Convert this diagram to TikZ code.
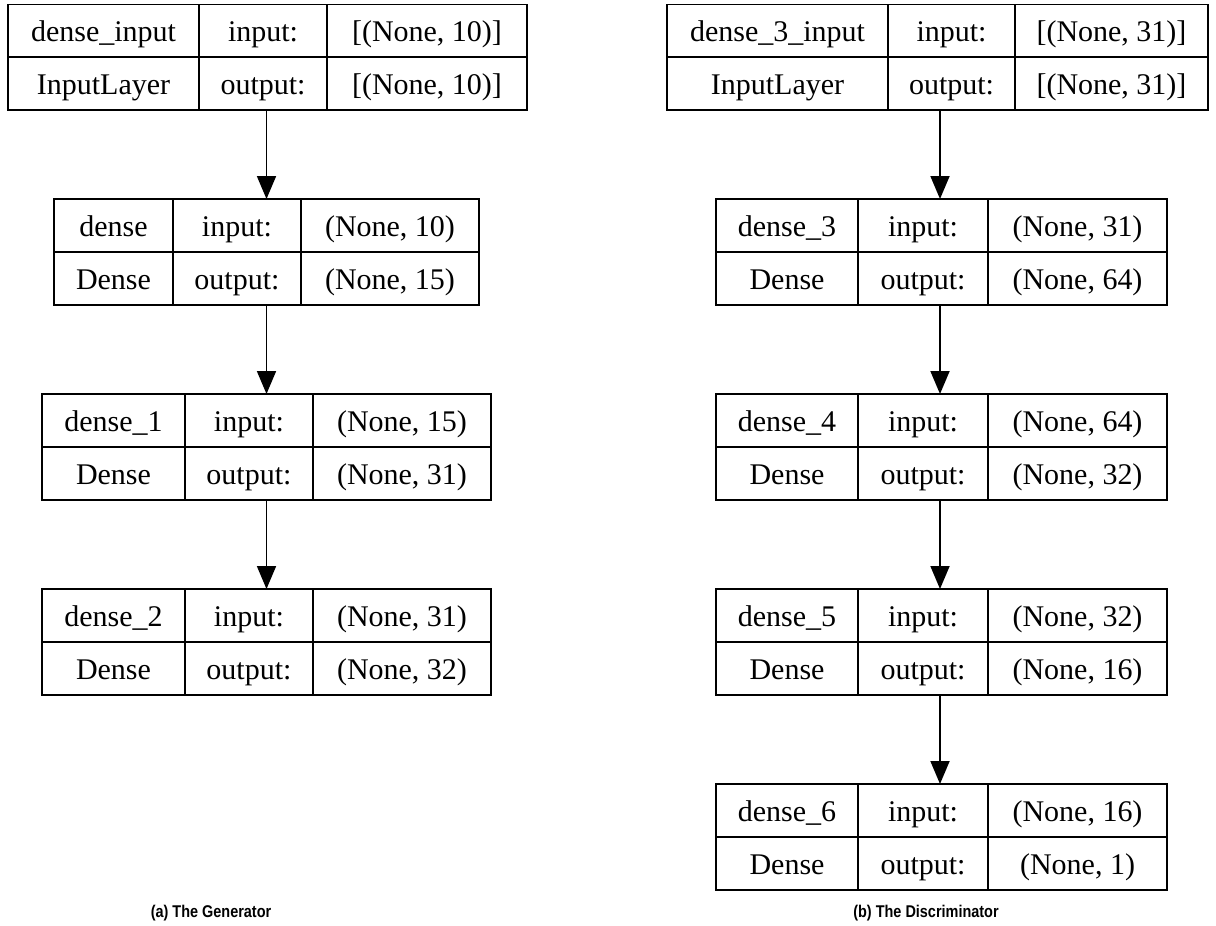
\documentclass[tikz,border=0pt]{standalone}
\usepackage{fontspec}
\setmainfont{Liberation Serif}
\newfontfamily\capfont{Liberation Sans}
\usetikzlibrary{arrows.meta}

\tikzset{
  frame/.style={draw=black, line width=1.6pt, rectangle, inner sep=0pt, outer sep=0pt},
  rule/.style={draw=black, line width=1.6pt},
  cell/.style={inner sep=0pt, text height=23pt, text depth=2pt, font=\fontsize{30}{32}\selectfont},
  link/.style={draw=black, line width=1.8pt, -{Triangle[length=23pt,width=19pt]}},
  caption/.style={inner sep=0pt, xscale=0.85, font=\capfont\bfseries\fontsize{17}{19}\selectfont}
}

% frame of a layer table: name, left, right, divider 1, divider 2, top, bottom
\newcommand\layerframe[7]{%
  \node[frame, minimum width={#3-#2}, minimum height={#7-#6}] (#1) at ({(#2+#3)/2},{(#6+#7)/2}) {};
  \draw[rule] (#4,#6) -- (#4,#7);
  \draw[rule] (#5,#6) -- (#5,#7);
  \draw[rule] (#2,{(#6+#7)/2}) -- (#3,{(#6+#7)/2});
  \coordinate (#1-x1) at ({(#2+#4)/2},0);
  \coordinate (#1-x2) at ({(#4+#5)/2},0);
  \coordinate (#1-x3) at ({(#5+#3)/2},0);
  \coordinate (#1-y1) at (0,{(3*#6+#7)/4});
  \coordinate (#1-y2) at (0,{(#6+3*#7)/4});
}
% the six texts of a layer table
\newcommand\layertext[7]{%
  \node[cell] (#1-name)  at (#1-x1 |- #1-y1) {#2};
  \node[cell] (#1-in)    at (#1-x2 |- #1-y1) {#3};
  \node[cell] (#1-inv)   at (#1-x3 |- #1-y1) {#4};
  \node[cell] (#1-kind)  at (#1-x1 |- #1-y2) {#5};
  \node[cell] (#1-out)   at (#1-x2 |- #1-y2) {#6};
  \node[cell] (#1-outv)  at (#1-x3 |- #1-y2) {#7};
}

\begin{document}
\begin{tikzpicture}[x=1pt,y=-1pt]
\useasboundingbox[fill=white] (0,0) rectangle (1216,926);

% generator
\layerframe{gA}{8}{527}{199}{327}{4.5}{110}
\layertext{gA}{dense\_input}{input:}{[(None, 10)]}{InputLayer}{output:}{[(None, 10)]}
\layerframe{gB}{54}{479}{173}{301}{199}{305}
\layertext{gB}{dense}{input:}{(None, 10)}{Dense}{output:}{(None, 15)}
\layerframe{gC}{42}{491}{185}{313}{394}{500}
\layertext{gC}{dense\_1}{input:}{(None, 15)}{Dense}{output:}{(None, 31)}
\layerframe{gD}{42}{491}{185}{313}{589}{695}
\layertext{gD}{dense\_2}{input:}{(None, 31)}{Dense}{output:}{(None, 32)}

\draw[link] (gA.south -| gB.north) -- (gB.north);
\draw[link] (gB.south) -- (gC.north -| gB.south);
\draw[link] (gC.south -| gB.south) -- (gD.north -| gB.south);

% discriminator
\layerframe{dA}{667}{1208}{888}{1015}{4.5}{110}
\layertext{dA}{dense\_3\_input}{input:}{[(None, 31)]}{InputLayer}{output:}{[(None, 31)]}
\layerframe{dB}{716}{1167}{858}{988}{199}{305}
\layertext{dB}{dense\_3}{input:}{(None, 31)}{Dense}{output:}{(None, 64)}
\layerframe{dC}{716}{1167}{858}{988}{394}{500}
\layertext{dC}{dense\_4}{input:}{(None, 64)}{Dense}{output:}{(None, 32)}
\layerframe{dD}{716}{1167}{858}{988}{589}{695}
\layertext{dD}{dense\_5}{input:}{(None, 32)}{Dense}{output:}{(None, 16)}
\layerframe{dE}{716}{1167}{858}{988}{784}{890}
\layertext{dE}{dense\_6}{input:}{(None, 16)}{Dense}{output:}{(None, 1)}

\coordinate (dx) at (940,0);
\draw[link] (dA.south -| dx) -- (dB.north -| dx);
\draw[link] (dB.south -| dx) -- (dC.north -| dx);
\draw[link] (dC.south -| dx) -- (dD.north -| dx);
\draw[link] (dD.south -| dx) -- (dE.north -| dx);

% captions
\node[caption] (capA) at (211,913) {(a) The Generator};
\node[caption] (capB) at (926,913) {(b) The Discriminator};
\end{tikzpicture}
\end{document}
